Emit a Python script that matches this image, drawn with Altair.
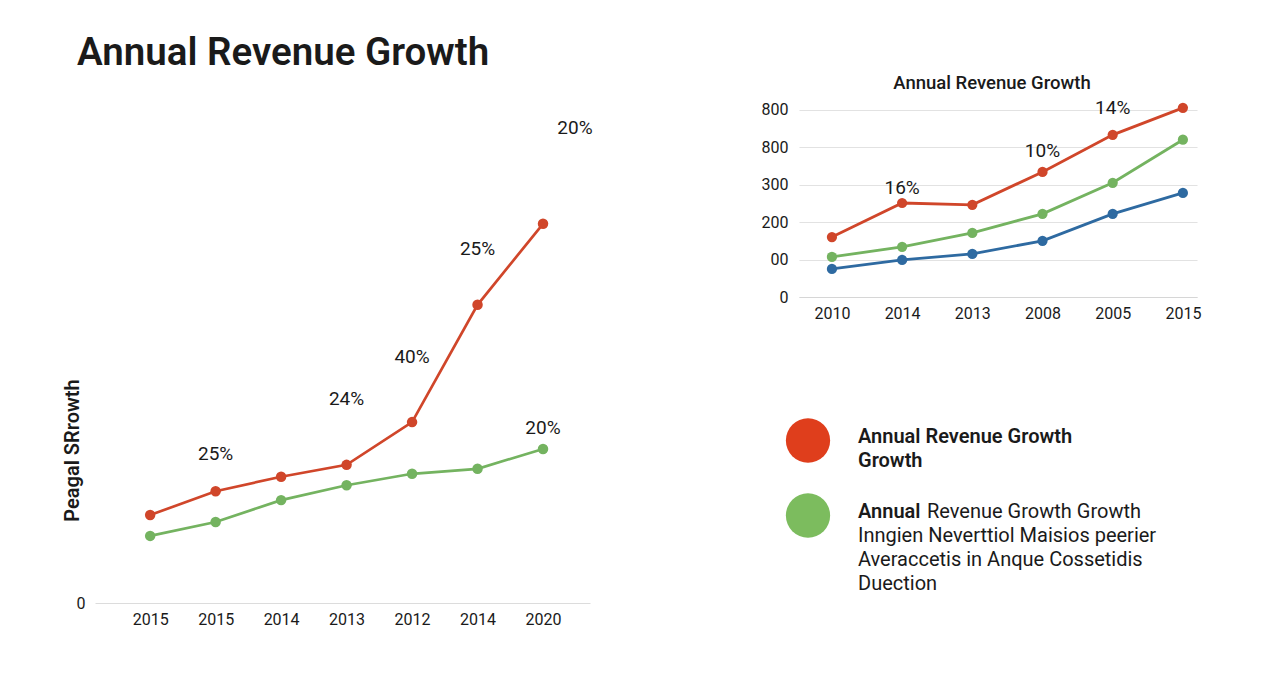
import json
import altair as alt
import pandas as pd

# ---------------- data ----------------
# left chart
left_years = ["2015", "2015", "2014", "2013", "2012", "2014", "2020"]
left_red = [17.7, 22.5, 25.4, 27.8, 36.4, 60.0, 76.3]
left_green = [13.5, 16.3, 20.7, 23.7, 26.0, 27.0, 31.0]
left_label_idx = [1, 3, 4, 5, 6]
left_label_val = [30.0, 41.0, 49.5, 71.2, 35.2]
left_label_txt = ["25%", "24%", "40%", "25%", "20%"]
left_note_idx = [6]
left_note_val = [95.6]
left_note_txt = ["20%"]

# right chart
right_years = ["2010", "2014", "2013", "2008", "2005", "2015"]
right_tick_labels = ["0", "00", "200", "300", "800", "800"]
right_red = [1.60, 2.51, 2.46, 3.34, 4.33, 5.05]
right_green = [1.07, 1.34, 1.71, 2.22, 3.05, 4.20]
right_blue = [0.75, 0.99, 1.15, 1.50, 2.22, 2.78]
right_label_idx = [1, 3, 4]
right_label_val = [2.91, 3.90, 5.05]
right_label_txt = ["16%", "10%", "14%"]

# legend
legend_names = ["red", "green"]
legend_bold = ["Annual Revenue Growth\nGrowth", "Annual"]
legend_inline = ["", "Revenue Growth Growth"]
legend_block = ["", "\nInngien Neverttiol Maisios peerier\nAveraccetis in Anque Cossetidis\nDuection"]

RED = "#d0462a"
GREEN = "#74b360"
BLUE = "#2e6aa1"
TXT = "#1a1a1a"
FONT = "Roboto"

# ---------------- left chart ----------------
left_df = pd.DataFrame({
    "idx": list(range(len(left_years))) * 2,
    "value": left_red + left_green,
    "series": ["red"] * len(left_red) + ["green"] * len(left_green),
})
left_lab = pd.DataFrame({"idx": left_label_idx, "value": left_label_val, "txt": left_label_txt})
left_note = pd.DataFrame({"idx": left_note_idx, "value": left_note_val, "txt": left_note_txt})

lx = alt.X(
    "idx:O",
    scale=alt.Scale(type="point", padding=0.78, align=0.54),
    axis=alt.Axis(
        title=None, labelExpr=f"{json.dumps(left_years)}[datum.value]", labelAngle=0,
        ticks=False, domainColor="#dcdcdc", domainWidth=1, labelFontSize=16,
        labelPadding=8, labelColor=TXT, labelFont=FONT,
    ),
)
ly = alt.Y(
    "value:Q",
    scale=alt.Scale(domain=[0, 100], nice=False),
    axis=alt.Axis(
        values=[0], grid=False, domain=False, ticks=False, labelFontSize=16,
        labelPadding=10, labelColor=TXT, labelFont=FONT,
        title="Peagal SRrowth", titleFontSize=20, titleFontWeight=600, titleColor=TXT,
        titleFont=FONT, titleAngle=270, titleX=-23, titleY=344, titleAlign="center",
        titleBaseline="middle",
    ),
)
lcolor = alt.Color("series:N", scale=alt.Scale(domain=["red", "green"], range=[RED, GREEN]), legend=None)

left_base = alt.Chart(left_df).encode(x=lx, y=ly, color=lcolor, detail="series:N")
left_lines = left_base.mark_line(strokeWidth=2.7)
left_points = left_base.mark_circle(size=110, opacity=1)
left_text = alt.Chart(left_lab).mark_text(fontSize=19, color=TXT, font=FONT).encode(
    x=lx, y=ly, text="txt:N")
left_note_text = alt.Chart(left_note).mark_text(fontSize=19, color=TXT, font=FONT, dx=32).encode(
    x=lx, y=ly, text="txt:N")

left = alt.layer(left_lines, left_points, left_text, left_note_text).properties(
    width=495, height=497,
    title=alt.TitleParams(
        "Annual Revenue Growth", anchor="start", frame="group", dx=-18, fontSize=38.5,
        fontWeight=600, baseline="alphabetic", offset=3, color=TXT, font=FONT,
    ),
)

# ---------------- right chart ----------------
n = len(right_years)
right_df = pd.DataFrame({
    "idx": list(range(n)) * 3,
    "value": right_red + right_green + right_blue,
    "series": ["red"] * n + ["green"] * n + ["blue"] * n,
})
right_lab = pd.DataFrame({"idx": right_label_idx, "value": right_label_val, "txt": right_label_txt})

rx = alt.X(
    "idx:O",
    scale=alt.Scale(type="point", padding=0.335, align=0.7),
    axis=alt.Axis(
        title=None, labelExpr=f"{json.dumps(right_years)}[datum.value]", labelAngle=0,
        ticks=False, domainColor="#d6d6d6", domainWidth=1.2, labelFontSize=16,
        labelPadding=8, labelColor=TXT, labelFont=FONT,
    ),
)
ry = alt.Y(
    "value:Q",
    scale=alt.Scale(domain=[0, 5.1], nice=False),
    axis=alt.Axis(
        values=list(range(len(right_tick_labels))),
        labelExpr=f"{json.dumps(right_tick_labels)}[datum.value]",
        grid=True, gridColor="#e2e2e2", gridWidth=1.2, domain=False, ticks=False,
        labelOverlap=False, labelFontSize=16, labelPadding=11, labelColor=TXT,
        labelFont=FONT, title=None,
    ),
)
rcolor = alt.Color("series:N", scale=alt.Scale(domain=["red", "green", "blue"], range=[RED, GREEN, BLUE]), legend=None)

right_base = alt.Chart(right_df).encode(x=rx, y=ry, color=rcolor, detail="series:N")
right_lines = right_base.mark_line(strokeWidth=2.8)
right_points = right_base.mark_circle(size=105, opacity=1)
right_text = alt.Chart(right_lab).mark_text(fontSize=19, color=TXT, font=FONT).encode(
    x=rx, y=ry, text="txt:N")

right = alt.layer(right_lines, right_points, right_text).properties(
    width=398, height=191,
    title=alt.TitleParams(
        "Annual Revenue Growth", anchor="middle", frame="group", dx=-6, fontSize=18.5,
        fontWeight=500, baseline="alphabetic", offset=-9, color=TXT, font=FONT,
    ),
)

# ---------------- legend ----------------
legend_df = pd.DataFrame({
    "row": list(range(len(legend_names))),
    "name": legend_names,
    "bold": legend_bold,
    "inline": legend_inline,
    "block": legend_block,
})
gy = alt.Y("row:O", scale=alt.Scale(type="point", padding=0.5), axis=None)
legend_circles = alt.Chart(legend_df).mark_circle(size=1960, opacity=1).encode(
    x=alt.value(9), y=gy,
    color=alt.Color("name:N", scale=alt.Scale(domain=legend_names, range=["#df3e1c", "#7cbc5e"]), legend=None),
)
legend_bold_t = alt.Chart(legend_df).mark_text(
    align="left", baseline="alphabetic", dy=2, fontSize=20, fontWeight=600,
    lineBreak="\n", lineHeight=24, color=TXT, font=FONT,
).encode(x=alt.value(59), y=gy, text="bold:N")
legend_inline_t = alt.Chart(legend_df).mark_text(
    align="left", baseline="alphabetic", dy=2, dx=69, fontSize=20,
    lineBreak="\n", lineHeight=24, color=TXT, font=FONT,
).encode(x=alt.value(59), y=gy, text="inline:N")
legend_block_t = alt.Chart(legend_df).mark_text(
    align="left", baseline="alphabetic", dy=2, fontSize=20,
    lineBreak="\n", lineHeight=24, color=TXT, font=FONT,
).encode(x=alt.value(59), y=gy, text="block:N")

legend = alt.layer(legend_circles, legend_bold_t, legend_inline_t, legend_block_t).properties(
    width=400, height=150)

right_col = alt.vconcat(right, legend, spacing=106, bounds="flush").resolve_scale(color="independent")
chart = (
    alt.hconcat(left, right_col, spacing=209, bounds="flush")
    .resolve_scale(color="independent")
    .properties(padding={"left": 54, "top": 25, "right": 5, "bottom": 5})
    .configure(font=FONT)
    .configure_view(stroke=None)
)

chart.save("out.html", embed_options={"renderer": "svg", "actions": False})
